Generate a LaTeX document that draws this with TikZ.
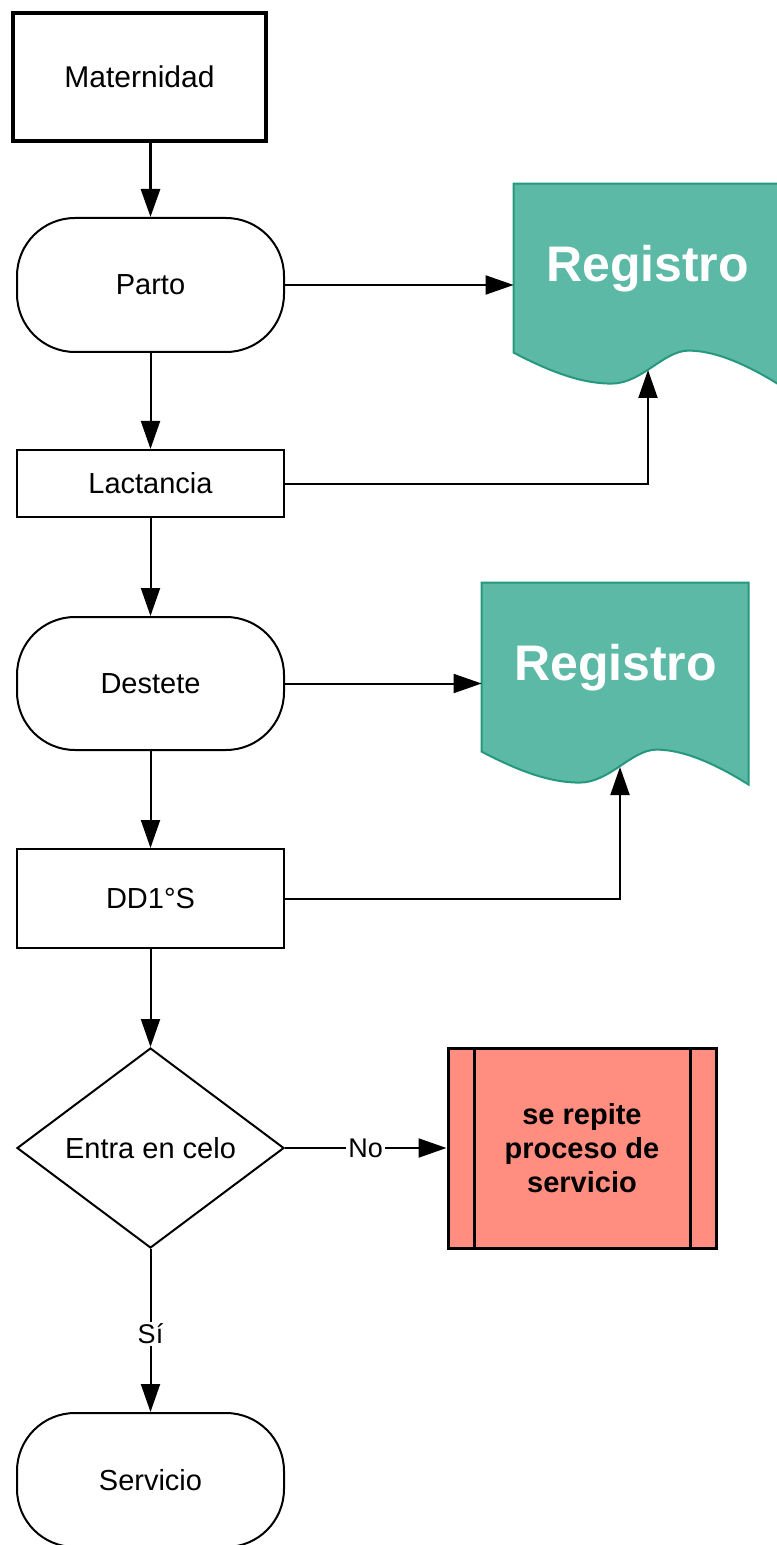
\documentclass[tikz,border=0pt]{standalone}
\usepackage{fontspec}
\setmainfont{Liberation Sans}
\usetikzlibrary{shapes.geometric,arrows.meta,backgrounds}
\definecolor{regfill}{RGB}{92,185,166}
\definecolor{regline}{RGB}{38,152,126}
\definecolor{repfill}{RGB}{255,141,128}

\begin{document}
\begin{tikzpicture}[x=0.5pt,y=-0.5pt,
  font=\fontsize{14.5}{17}\selectfont,
  caja/.style={draw,line width=1pt,minimum width=133.5pt,inner sep=0pt,align=center},
  term/.style={caja,rounded corners=29pt,minimum height=67pt},
  flecha/.style={line width=1pt,-{Triangle[length=14pt,width=9.5pt]}},
  etiq/.style={fill=white,inner sep=1pt,font=\fontsize{13.5}{16}\selectfont},
  doc/.style={minimum width=133.5pt,minimum height=84.5pt,inner sep=0pt,text=white,font=\fontsize{25}{30}\selectfont\bfseries}]
\useasboundingbox (0,0) rectangle (776,1545);

\node[caja,line width=2pt,minimum width=126.5pt,minimum height=64pt,font=\fontsize{15}{18}\selectfont] (mat) at (139.5,77) {Maternidad};
\node[term] (parto) at (150.5,285) {Parto};
\node[caja,minimum height=33.5pt] (lact) at (150.5,483.5) {Lactancia};
\node[term,minimum height=66.5pt] (dest) at (150.5,683.5) {Destete};
\node[caja,minimum height=49.5pt] (dd) at (150.5,898.5) {DD1°S};
\node[caja,diamond,minimum width=133.5pt,minimum height=100pt] (celo) at (150.5,1148) {Entra en celo};
\node[caja,line width=1.5pt,fill=repfill,minimum width=134pt,minimum height=100pt,font=\fontsize{14.5}{17}\selectfont\bfseries] (rep) at (582,1148) {se repite\\proceso de\\servicio};
\draw[line width=1.5pt] ([xshift=14pt]rep.north west) -- ([xshift=14pt]rep.south west);
\draw[line width=1.5pt] ([xshift=-13.5pt]rep.north east) -- ([xshift=-13.5pt]rep.south east);
\node[term] (serv) at (150.5,1480) {Servicio};

\node[doc] (reg1) at (647.5,268.5) {Registro};
\node[doc] (reg2) at (615.5,667.5) {Registro};
\begin{scope}[on background layer]
\foreach \d in {reg1,reg2}
  \filldraw[fill=regfill,draw=regline,line width=1pt,shift={(\d.north west)}] (0,0) -- (267,0) -- (267,202)
    .. controls (240,185) and (205,167) .. (175,167) .. controls (150,167) and (128,200) .. (98,200)
    .. controls (70,200) and (40,190) .. (0,169) -- cycle;
\end{scope}
\coordinate (w1) at (648,370);
\coordinate (w2) at (620,767);

\draw[flecha,line width=1.5pt] (parto.north |- mat.south) -- (parto.north);
\draw[flecha] (parto.east) -- (parto.east -| reg1.west);
\draw[flecha] (parto) -- (lact);
\draw[flecha] (lact.east) -| (w1);
\draw[flecha] (lact) -- (dest);
\draw[flecha] (dest.east) -- (dest.east -| reg2.west);
\draw[flecha] (dest) -- (dd);
\draw[flecha] (dd.east) -| (w2);
\draw[flecha] (dd) -- (celo);
\draw[flecha] (celo.east) -- node[etiq] {No} (rep.west);
\draw[flecha] (celo.south) -- node[etiq,pos=0.52] {Sí} (serv.north);
\end{tikzpicture}
\end{document}
